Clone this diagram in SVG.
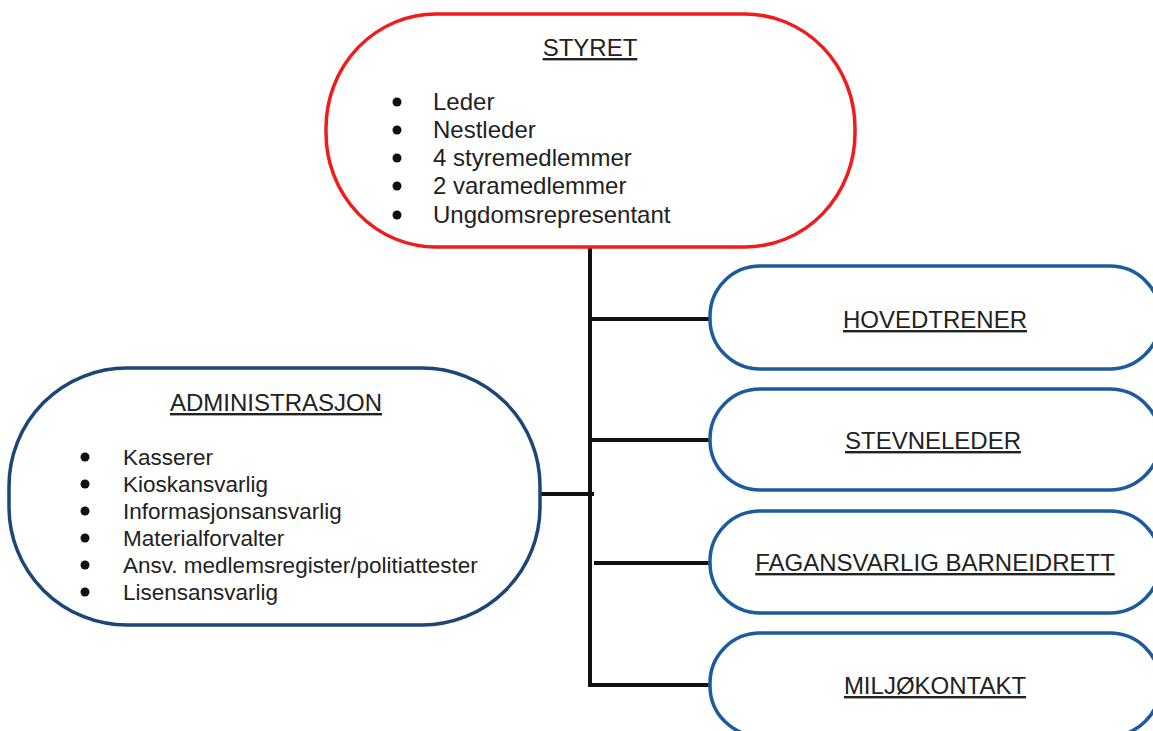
<svg xmlns="http://www.w3.org/2000/svg" width="1153" height="731" viewBox="0 0 1153 731">
<style>
text{font-family:"Liberation Sans",Arial,sans-serif;fill:#222;}
.t{font-size:24px;text-decoration:underline;text-anchor:middle;}
.i{font-size:24px;}
.a{font-size:22.5px;}
.red{fill:#fff;stroke:#f21b1b;stroke-width:3.5;}
.blue{fill:#fff;stroke:#1d5c9c;stroke-width:3.5;}
.navy{fill:#fff;stroke:#1b4676;stroke-width:3.5;}
.conn{stroke:#111;stroke-width:4;fill:none;}
.b{fill:#111;}
</style>
<rect x="0" y="0" width="1153" height="731" fill="#fff"/>
<g id="connectors">
<line class="conn" x1="590" y1="247" x2="590" y2="687"/>
<line class="conn" x1="588" y1="319" x2="711" y2="319"/>
<line class="conn" x1="588" y1="440" x2="711" y2="440"/>
<line class="conn" x1="539" y1="494" x2="594" y2="494"/>
<line class="conn" x1="594" y1="563" x2="711" y2="563"/>
<line class="conn" x1="588" y1="685" x2="711" y2="685"/>
</g>
<g id="styret">
<rect class="red" x="326" y="14" width="529" height="233" rx="110" ry="114"/>
<text class="t" x="590" y="56">STYRET</text>
<circle class="b" cx="397" cy="102" r="4.5"/><text class="i" x="433" y="110">Leder</text>
<circle class="b" cx="397" cy="130" r="4.5"/><text class="i" x="433" y="138">Nestleder</text>
<circle class="b" cx="397" cy="158" r="4.5"/><text class="i" x="433" y="166">4 styremedlemmer</text>
<circle class="b" cx="397" cy="186" r="4.5"/><text class="i" x="433" y="194">2 varamedlemmer</text>
<circle class="b" cx="397" cy="215" r="4.5"/><text class="i" x="433" y="223">Ungdomsrepresentant</text>
</g>
<g id="administrasjon">
<rect class="navy" x="9" y="368" width="531" height="257" rx="118" ry="118"/>
<text class="t" x="276" y="411">ADMINISTRASJON</text>
<circle class="b" cx="85" cy="457" r="4.5"/><text class="a" x="123" y="465">Kasserer</text>
<circle class="b" cx="85" cy="484" r="4.5"/><text class="a" x="123" y="492">Kioskansvarlig</text>
<circle class="b" cx="85" cy="511" r="4.5"/><text class="a" x="123" y="519">Informasjonsansvarlig</text>
<circle class="b" cx="85" cy="538" r="4.5"/><text class="a" x="123" y="546">Materialforvalter</text>
<circle class="b" cx="85" cy="565" r="4.5"/><text class="a" x="123" y="573">Ansv. medlemsregister/politiattester</text>
<circle class="b" cx="85" cy="592" r="4.5"/><text class="a" x="123" y="600">Lisensansvarlig</text>
</g>
<g id="hovedtrener">
<rect class="blue" x="710" y="266" width="450" height="103" rx="50" ry="50"/>
<text class="t" x="935" y="328">HOVEDTRENER</text>
</g>
<g id="stevneleder">
<rect class="blue" x="710" y="389" width="450" height="101" rx="50" ry="50"/>
<text class="t" x="933" y="449">STEVNELEDER</text>
</g>
<g id="fagansvarlig">
<rect class="blue" x="710" y="511" width="450" height="102" rx="50" ry="50"/>
<text class="t" x="935" y="571">FAGANSVARLIG BARNEIDRETT</text>
</g>
<g id="miljokontakt">
<rect class="blue" x="710" y="633" width="450" height="103" rx="50" ry="50"/>
<text class="t" x="935" y="694">MILJØKONTAKT</text>
</g>
</svg>
